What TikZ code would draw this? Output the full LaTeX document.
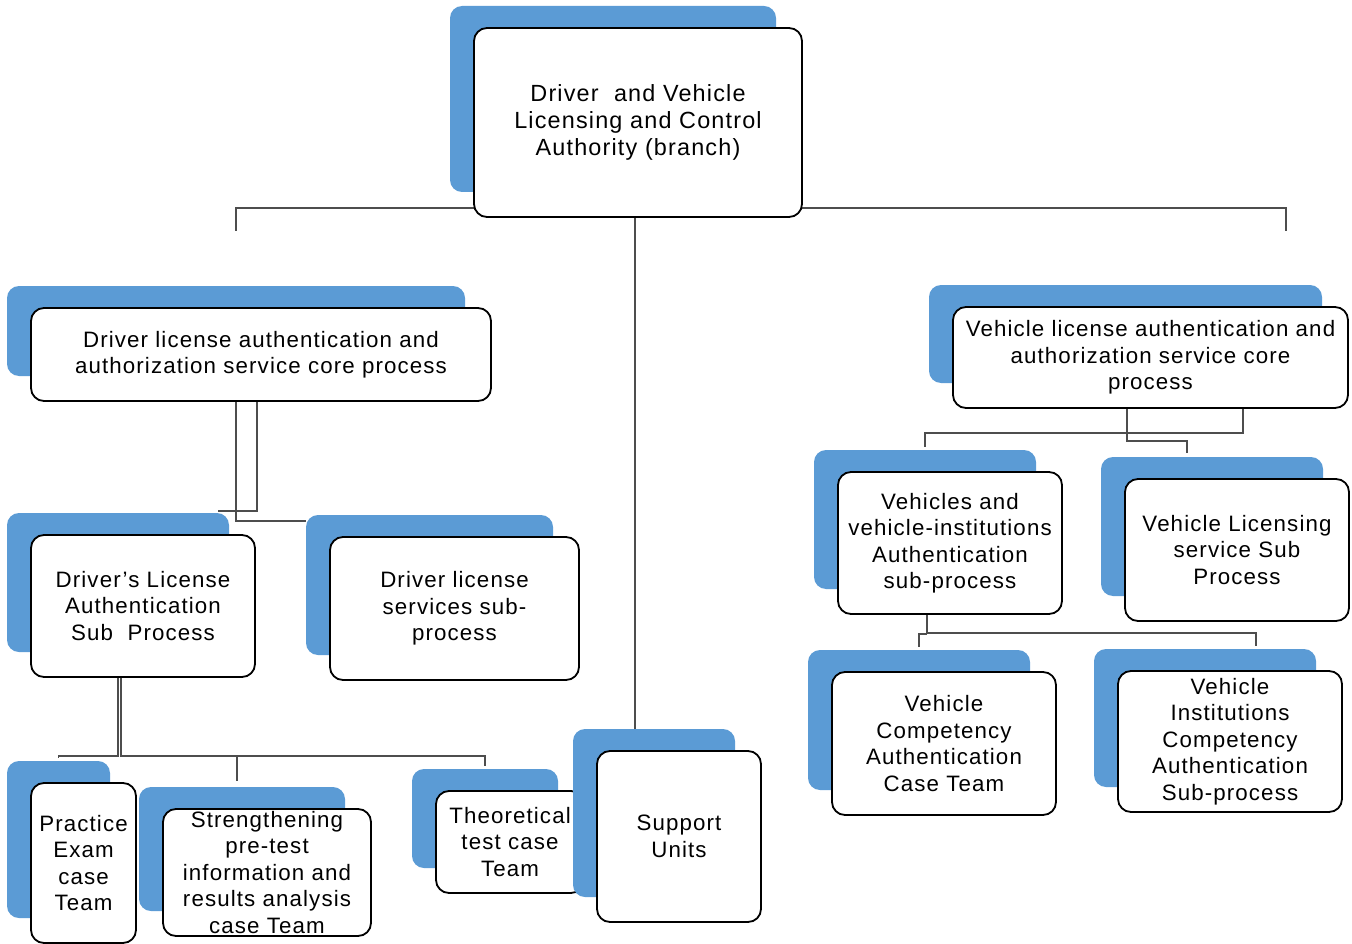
\documentclass[tikz,border=0pt]{standalone}
\usepackage{fontspec}
\setmainfont{Liberation Sans}[LetterSpace=5]
\usetikzlibrary{calc}
\definecolor{bluebk}{HTML}{5B9BD5}
\definecolor{linkgray}{HTML}{4D4D4D}
\pgfdeclarelayer{bg}
\pgfsetlayers{bg,main}
\tikzset{
  back/.style={fill=bluebk, draw=none, rounded corners=12pt, inner sep=0pt},
  wbox/.style={draw=black, line width=1.8pt, fill=white, rounded corners=13pt,
    inner sep=0pt, align=center, font=\fontsize{22.3}{26.5}\selectfont},
  bigtext/.style={font=\fontsize{23.4}{27}\selectfont},
  link/.style={draw=linkgray, line width=1.4pt}
}
% \orgbox[extra]{name}{x1}{y1}{x2}{y2}{text}: white box with its blue card behind
\newcommand{\orgbox}[7][]{%
  \node[back, minimum width={(#5-#3-2)*1pt}, minimum height={(#6-#4-3)*1pt}]
    (#2bk) at ($(#3-24,#4-22)!0.5!(#5-26,#6-25)$) {};
  \node[wbox, minimum width={(#5-#3)*1pt}, minimum height={(#6-#4)*1pt}, #1]
    (#2) at ($(#3,#4)!0.5!(#5,#6)$) {#7};
}
\begin{document}
\begin{tikzpicture}[x=1pt,y=-1pt]
\useasboundingbox (0,0) rectangle (1352,944);

\orgbox[bigtext]{top}{474}{28}{802}{217}{Driver \ and Vehicle\\Licensing and Control\\Authority (branch)}
\orgbox{dlcore}{31}{308}{491}{401}{Driver license authentication and\\authorization service core process}
\orgbox{vcore}{953}{307}{1348}{408}{Vehicle license authentication and\\authorization service core\\process}
\orgbox{lic}{31}{535}{255}{677}{Driver’s License\\Authentication\\Sub \ Process}
\orgbox{serv}{330}{537}{579}{680}{Driver license\\services sub-\\process}
\orgbox{vv}{838}{472}{1062}{614}{Vehicles and\\vehicle-institutions\\Authentication\\sub-process}
\orgbox{vls}{1125}{479}{1349}{621}{Vehicle Licensing\\service Sub\\Process}
\orgbox{vc}{832}{672}{1056}{815}{Vehicle\\Competency\\Authentication\\Case Team}
\orgbox{vi}{1118}{671}{1342}{812}{Vehicle\\Institutions\\Competency\\Authentication\\Sub-process}
\orgbox{pract}{31}{783}{136}{943}{Practice\\Exam\\case\\Team}
\orgbox{str}{163}{809}{371}{936}{Strengthening\\pre-test\\information and\\results analysis\\case Team}
\orgbox{theo}{436}{791}{584}{893}{Theoretical\\test case\\Team}
\orgbox{sup}{597}{751}{761}{922}{Support\\Units}

\coordinate (jl) at (236,231);
\coordinate (jr) at (1286,231);

\begin{pgfonlayer}{bg}
  % top level
  \draw[link] (jl) |- ([yshift=10pt]top.south) -| (jr);
  \draw[link] (top.south -| 635,0) -- (supbk.north -| 635,0);
  % driver core process
  \draw[link] (dlcore.south -| 236,0) |- (servbk.west |- 0,521);
  \draw[link] (dlcore.south -| 257,0) |- ([xshift=-11pt]licbk.east |- 0,511);
  % driver's license sub process teams
  \draw[link] (lic.south -| 118,0) -- (118,756) -| ([yshift=3pt]practbk.north);
  \draw[link] (lic.south -| 121,0) -- (121,756) -| ([yshift=3pt]theobk.north);
  \draw[link] (121,756) -| ([yshift=6pt]strbk.north -| 237,0);
  % vehicle core process
  \draw[link] (vcore.south -| 1243,0) -- (1243,433) -| ([yshift=3pt]vvbk.north);
  \draw[link] (vcore.south -| 1127,0) -- (1127,441) -| ([yshift=4pt]vlsbk.north -| 1187,0);
  % vehicle institutions sub process teams
  \draw[link] (vv.south -| 927,0) -- (927,633) -- (1256,633) -- ([yshift=3pt]vibk.north -| 1256,0);
  \draw[link] (927,634) -| ([yshift=3pt]vcbk.north);
\end{pgfonlayer}
\end{tikzpicture}
\end{document}
